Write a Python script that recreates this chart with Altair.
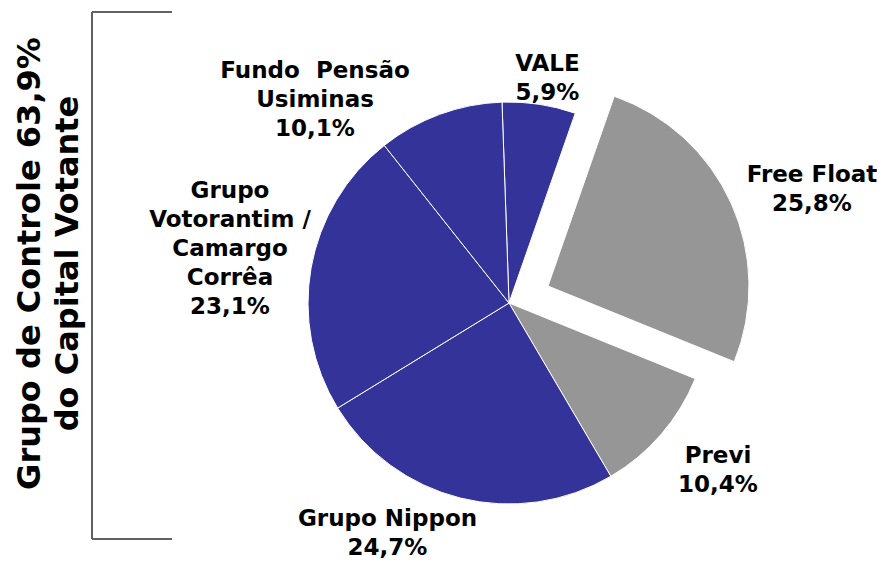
import math
import altair as alt
import pandas as pd

# ---------------- data ----------------
categories = ["VALE", "Free Float", "Previ", "Grupo Nippon",
              "Grupo Votorantim / Camargo Corrêa", "Fundo Pensão Usiminas"]
shares = [5.9, 25.8, 10.4, 24.7, 23.1, 10.1]
groups = ["Controle", "Outros", "Outros", "Controle", "Controle", "Controle"]
label_names = ["VALE", "Free Float", "Previ", "Grupo Nippon",
               "Grupo\nVotorantim /\nCamargo\nCorrêa", "Fundo \u00a0Pensão\nUsiminas"]
title_lines = ["Grupo de Controle 63,9%", "do Capital Votante"]
group_names = ["Controle", "Outros"]
group_colors = ["#333399", "#969696"]

# ---------------- layout ----------------
W, H = 869, 551
CX, CY = 501, 295
R = 201
START_DEG = -2.0
EXPLODED = "Free Float"
EXPLODE_DX, EXPLODE_DY = 39, -17
# first-baseline position of each label (chart pixels)
LABEL_POS = {
    "VALE": (539.5, 62.5),
    "Free Float": (804, 174),
    "Previ": (710, 455),
    "Grupo Nippon": (379.5, 518),
    "Grupo Votorantim / Camargo Corrêa": (222, 190),
    "Fundo Pensão Usiminas": (307, 70),
}
TITLE_X = [32, 70]
TITLE_Y = 255.5

def pct(v):
    return f"{v:.1f}".replace(".", ",") + "%"

pie_df = pd.DataFrame({
    "category": categories,
    "share": shares,
    "group": groups,
    "order": list(range(len(categories))),
})

label_df = pd.DataFrame({
    "text": [f"{n}\n{pct(s)}" for n, s in zip(label_names, shares)],
    "lx": [LABEL_POS[c][0] for c in categories],
    "ly": [LABEL_POS[c][1] for c in categories],
})

title_df = pd.DataFrame({"text": title_lines, "tx": TITLE_X, "ty": [TITLE_Y] * 2})

a0 = math.radians(START_DEG)
theta_scale = alt.Scale(domain=[0, 100], range=[a0, a0 + 2 * math.pi])
color_scale = alt.Scale(domain=group_names, range=group_colors)

base = (
    alt.Chart(pie_df)
    .transform_window(cum="sum(share)", sort=[alt.SortField("order")], frame=[None, 0])
    .transform_calculate(start="datum.cum - datum.share")
)

arc_enc = dict(
    theta=alt.Theta("start:Q", scale=theta_scale),
    theta2="cum:Q",
    color=alt.Color("group:N", scale=color_scale, legend=None),
)

main = (
    base.transform_filter(f"datum.category != '{EXPLODED}'")
    .mark_arc(outerRadius=R, stroke="white", strokeWidth=1)
    .encode(x=alt.value(CX), y=alt.value(CY), **arc_enc)
)

exploded = (
    base.transform_filter(f"datum.category == '{EXPLODED}'")
    .mark_arc(outerRadius=R, stroke="white", strokeWidth=1)
    .encode(x=alt.value(CX + EXPLODE_DX), y=alt.value(CY + EXPLODE_DY), **arc_enc)
)

labels = (
    alt.Chart(label_df)
    .mark_text(font="DejaVu Sans", fontWeight="bold", fontSize=23, lineBreak="\n",
               lineHeight=29, align="center", baseline="alphabetic", color="black")
    .encode(x=alt.X("lx:Q", scale=None), y=alt.Y("ly:Q", scale=None), text="text:N")
)

titles = (
    alt.Chart(title_df)
    .mark_text(font="DejaVu Sans", fontWeight="bold", fontSize=32, angle=270,
               align="center", baseline="alphabetic", color="black")
    .encode(x=alt.X("tx:Q", scale=None), y=alt.Y("ty:Q", scale=None), text="text:N")
)

BR_X, BR_X2, BR_Y1, BR_Y2 = 84, 164, 4, 531
br_color = "#606060"
bracket_v = alt.Chart(pie_df).mark_rule(color=br_color, strokeWidth=1.2).encode(
    x=alt.value(BR_X), y=alt.value(BR_Y1), y2=alt.value(BR_Y2))
bracket_t = alt.Chart(pie_df).mark_rule(color=br_color, strokeWidth=1.2).encode(
    x=alt.value(BR_X), x2=alt.value(BR_X2), y=alt.value(BR_Y1))
bracket_b = alt.Chart(pie_df).mark_rule(color=br_color, strokeWidth=1.2).encode(
    x=alt.value(BR_X), x2=alt.value(BR_X2), y=alt.value(BR_Y2))

chart = (
    alt.layer(main, exploded, bracket_v, bracket_t, bracket_b, titles, labels)
    .properties(width=W, height=H, autosize=alt.AutoSizeParams(type="none"), padding=0)
    .configure_view(stroke=None)
)

chart.save("out.html", embed_options={"renderer": "svg", "actions": False})
